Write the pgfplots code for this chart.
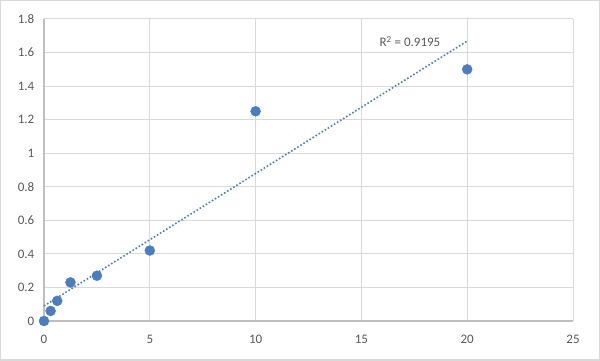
\documentclass[border=0pt]{standalone}
\usepackage{pgfplots}
\usepackage{pgfplotstable}
\pgfplotsset{compat=1.18}
\usepackage{fontspec}
\setmainfont{Carlito}
\definecolor{ptblue}{RGB}{74,126,193}
\definecolor{gridgrey}{RGB}{217,217,217}
\definecolor{axgrey}{RGB}{191,191,191}
\definecolor{txtgrey}{RGB}{89,89,89}
\pgfplotstableread{
x y
0 0
0.3125 0.06
0.625 0.12
1.25 0.23
2.5 0.27
5 0.42
10 1.25
20 1.5
}\datatable
\begin{document}
\begin{tikzpicture}[x=1pt,y=1pt]
\draw[gridgrey, line width=1.5pt, fill=white] (-43.25,-39.25) rectangle (555.25,320.25);
\begin{axis}[
  at={(0,0)}, anchor=south west,
  scale only axis, width=529pt, height=302pt,
  xmin=0, xmax=25, ymin=0, ymax=1.8,
  xtick={0,5,...,25}, ytick={0,0.2,...,1.8},
  yticklabels={0,0.2,0.4,0.6,0.8,1,1.2,1.4,1.6,1.8},
  grid=major,
  major grid style={gridgrey, line width=1pt},
  axis line style={draw=none},
  axis x line=bottom, axis y line=left,
  x axis line style={-}, y axis line style={-},
  tick style={draw=none},
  ticklabel style={font=\fontsize{13}{15}\selectfont, text=txtgrey},
  /pgf/number format/assume math mode=true,
  xticklabel style={yshift=-8.5pt},
  yticklabel style={xshift=-4pt},
  clip=false,
]
\draw[axgrey, line width=1.2pt] (axis cs:0,0) -- (axis cs:25,0);
\draw[axgrey, line width=1.2pt] (axis cs:0,0) -- (axis cs:0,1.8);
\addplot[ptblue, line width=1.6pt, dotted, no marks]
  table[x=x, y={create col/linear regression={y=y}}] {\datatable};
\addplot[only marks, mark=*, mark size=5pt, color=ptblue, mark options={fill=ptblue, draw=ptblue}] table[x=x,y=y] {\datatable};
\node[anchor=west, text=txtgrey, font=\fontsize{13}{15}\selectfont, inner sep=0pt] at (axis cs:15.85,1.665) {R\textsuperscript{2} = 0.9195};
\end{axis}
\end{tikzpicture}
\end{document}
